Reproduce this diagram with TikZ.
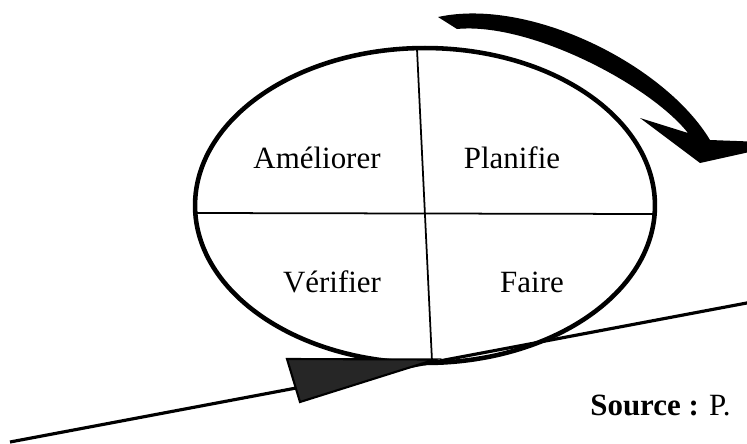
\documentclass[tikz,border=0pt]{standalone}
\usepackage{fontspec}
\setmainfont{Liberation Serif}
\usepackage{tikz}
\usetikzlibrary{shapes.geometric}
\definecolor{wedgefill}{HTML}{262626}

\begin{document}
\begin{tikzpicture}[x=0.02cm, y=-0.02cm,
  every node/.style={font=\fontsize{17.6}{21}\selectfont},
  rim/.style={draw, ellipse, line width=2.6pt, minimum width=9.2cm,
              minimum height=6.3cm, inner sep=0pt},
  split/.style={line width=1pt},
  quad/.style={anchor=base, inner sep=0pt},
  ground/.style={line width=1.8pt},
  wedge/.style={fill=wedgefill, draw=black, line width=1.2pt, line join=miter}]

\useasboundingbox (0,0) rectangle (747,443);
\clip (0,0) rectangle (747,443);

% the wheel and its four quarters
\node[rim] (wheel) at (425,205.5) {};
\coordinate (vtop) at (417,49);
\coordinate (vbot) at (432,361);
\coordinate (hlft) at (196,213);
\coordinate (hrgt) at (654,214);
\draw[split] (vtop) -- (vbot);
\draw[split] (hlft) -- (hrgt);

\node[quad] (act)   at (317,168) {Améliorer};
\node[quad] (plan)  at (512,168) {Planifie};
\node[quad] (check) at (332,292) {Vérifier};
\node[quad] (do)    at (532,292) {Faire};

% slope and wedge
\coordinate (gl) at (10,442);
\coordinate (gr) at (760,300.5);
\draw[ground] (gl) -- (gr);
\draw[wedge] (287,359) -- (300,402) -- (435,359.5) -- cycle;

% turning arrow
\fill (438,17) .. controls (530,-3) and (665,65) .. (710,140)
  -- (790,143) -- (700,163) -- (640,118) -- (688,133)
  .. controls (650,85) and (530,22) .. (457,29) -- cycle;

\node[anchor=base west, inner sep=0pt] (src) at (590,415) {\textbf{Source :} P.};
\end{tikzpicture}
\end{document}
